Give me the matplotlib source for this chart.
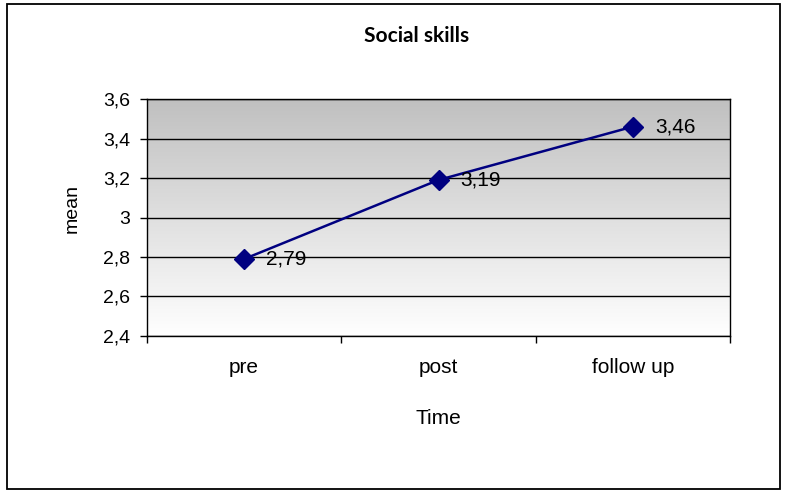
import numpy as np
import matplotlib.pyplot as plt
from matplotlib.patches import Rectangle
from matplotlib.colors import LinearSegmentedColormap

# Data
categories = ["pre", "post", "follow up"]
means = [2.79, 3.19, 3.46]
value_labels = ["2,79", "3,19", "3,46"]
y_ticks = [2.4, 2.6, 2.8, 3.0, 3.2, 3.4, 3.6]
y_tick_labels = ["2,4", "2,6", "2,8", "3", "3,2", "3,4", "3,6"]

plt.rcParams['font.family'] = ['Liberation Sans', 'DejaVu Sans']

fig = plt.figure(figsize=(7.86, 4.94), dpi=100)
ax = fig.add_axes([147 / 786, 1 - 336 / 494, (730 - 147) / 786, (336 - 99) / 494])

# outer chart border
fig.patches.append(Rectangle((7 / 786, 1 - 489 / 494), (780 - 7) / 786, (489 - 4) / 494,
                             transform=fig.transFigure, fill=False, edgecolor='black',
                             linewidth=1.3))

x = np.arange(len(categories))

# gradient background: gray at top, white at bottom
grad = np.linspace(0, 1, 256).reshape(-1, 1)
cmap = LinearSegmentedColormap.from_list("bg", ["#ffffff", "#c0c0c0"])
ax.imshow(grad, extent=[-0.5, 2.5, 2.4, 3.6], origin='lower', aspect='auto',
          cmap=cmap, zorder=0)

ax.set_xlim(-0.5, 2.5)
ax.set_ylim(2.4, 3.6)

for yv in y_ticks:
    ax.axhline(yv, color='black', linewidth=1, zorder=1)

ax.plot(x, means, color='#000080', linewidth=1.8, marker='D', markersize=10,
        markerfacecolor='#000080', markeredgecolor='#000080', zorder=3)

for xi, yi, lab in zip(x, means, value_labels):
    ax.annotate(lab, (xi, yi), xytext=(16, 0), textcoords='offset points',
                ha='left', va='center', fontsize=15, zorder=4)

ax.set_yticks(y_ticks)
ax.set_yticklabels(y_tick_labels, fontsize=14)
ax.set_xticks([-0.5, 0.5, 1.5, 2.5])
ax.set_xticklabels([])
ax.tick_params(axis='both', direction='out', length=5, width=1, color='black')
ax.tick_params(axis='y', pad=7)

for xi, cat in zip(x, categories):
    ax.text(xi, -0.135, cat, transform=ax.get_xaxis_transform(), ha='center',
            va='center', fontsize=15)

ax.text(0.5, -0.346, "Time", transform=ax.transAxes, ha='center', va='center',
        fontsize=15)
ax.set_ylabel("mean", fontsize=14)
ax.yaxis.set_label_coords(-0.113, 0.54)

for side in ['left', 'right', 'top', 'bottom']:
    ax.spines[side].set_color('black')
    ax.spines[side].set_linewidth(1)

fig.text(417 / 786, 1 - 36 / 494, "Social skills", ha='center', va='center',
         fontsize=15, fontweight='bold', family='Lato')

fig.savefig("out.png", dpi=100)
